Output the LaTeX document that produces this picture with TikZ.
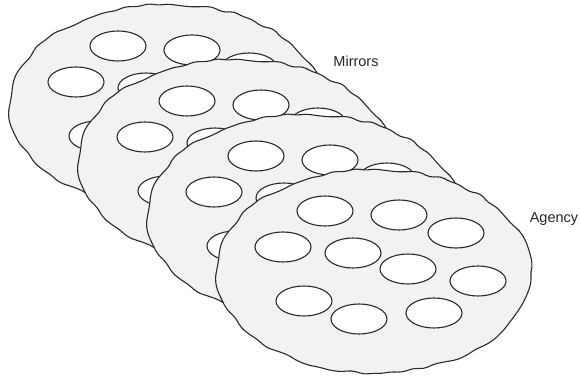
\documentclass[tikz,border=0pt]{standalone}
\usepackage{fontspec}
\setmainfont{Liberation Sans}
\usetikzlibrary{decorations.pathmorphing}
\definecolor{diskfill}{HTML}{F2F2F2}
\definecolor{edgecol}{HTML}{2B2B2B}
\begin{document}
\begin{tikzpicture}[x=1pt,y=-1pt,
  diskst/.style={fill=diskfill,draw=edgecol,line width=1.1pt,decorate,
    decoration={random steps,segment length=11pt,amplitude=2.2pt},rounded corners=4.5pt},
  holest/.style={fill=white,draw=edgecol,line width=1.1pt},
  lbl/.style={font=\fontsize{14.5}{17}\selectfont,text=black!85}]
\useasboundingbox (0,0) rectangle (581,379);
\foreach \k in {0,1,2,3}{
  \begin{scope}[shift={({167+69*\k},{106+55*\k})}]
  \pgfmathsetseed{11}
  \path[diskst] (0,0) ellipse [x radius=157, y radius=102];
  \foreach \hx/\hy in {-49/-60,25/-56,82/-38,-91/-24,-21/-18,34/-2,104/10,-70/30,-15/48,60/42}
    \draw[holest] (\hx,\hy) ellipse [x radius=28, y radius=15];
  \end{scope}
}
\node[lbl] (mirrors) at (356,61) {Mirrors};
\node[lbl] (agency) at (554,219) {Agency};
\end{tikzpicture}
\end{document}
